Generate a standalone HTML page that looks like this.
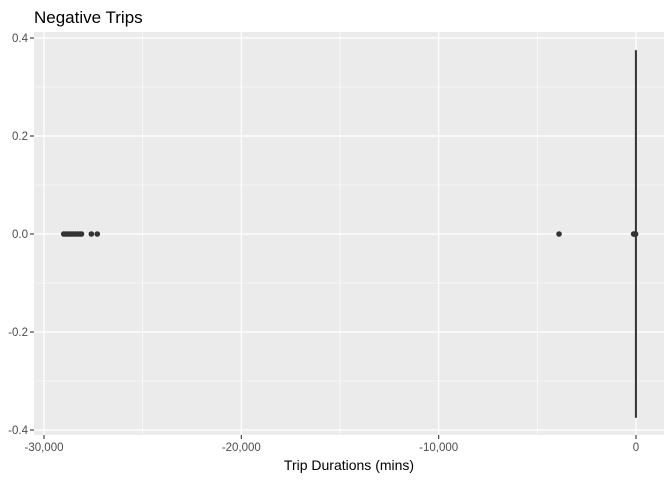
<!DOCTYPE html>
<html><head><meta charset="utf-8"><style>
body{margin:0;background:#fff;font-family:"Liberation Sans",sans-serif}
svg text{font-family:"Liberation Sans",sans-serif}
</style></head><body>
<svg width="672" height="480" xmlns="http://www.w3.org/2000/svg">
<text x="34" y="23" font-size="17" fill="#000">Negative Trips</text>
<rect x="34" y="32" width="630" height="403" fill="#ebebeb"/>
<g id="grid"></g><g id="marks"></g><g id="axes"></g>
<text x="349" y="470" font-size="14" text-anchor="middle" fill="#000">Trip Durations (mins)</text>
</svg>
<script>
const xTicks=[-30000,-20000,-10000,0];
const xTickLabels=["-30,000","-20,000","-10,000","0"];
const yTicks=[-0.4,-0.2,0,0.2,0.4];
const yTickLabels=["-0.4","-0.2","0.0","0.2","0.4"];
const outliers=[-29000,-28900,-28800,-28700,-28600,-28500,-28400,-28300,-28200,-28100,-27600,-27300,-3900,-120,-80,-50,-20];
const boxStats=[-15,-8,-4,-2,-1];
const X=v=>44+(v+30000)*592/30000;
const Y=v=>234-v*490;
const ns="http://www.w3.org/2000/svg";
function mk(t,a,p){const e=document.createElementNS(ns,t);for(const k in a)e.setAttribute(k,a[k]);p.appendChild(e);return e;}
const g=document.getElementById('grid'),m=document.getElementById('marks'),ax=document.getElementById('axes');
for(let i=0;i<xTicks.length-1;i++){const v=(xTicks[i]+xTicks[i+1])/2;
 const l=mk('line',{x1:X(v),x2:X(v),y1:32,y2:435,stroke:'#fff','stroke-width':0.6},g);
 }
for(let i=0;i<yTicks.length-1;i++){const v=(yTicks[i]+yTicks[i+1])/2;
 const l=mk('line',{x1:34,x2:664,y1:Y(v),y2:Y(v),stroke:'#fff','stroke-width':0.6},g);
 }
xTicks.forEach((v,i)=>{const l=mk('line',{x1:X(v),x2:X(v),y1:32,y2:435,stroke:'#fff','stroke-width':1.2},g);
 
 const t=mk('line',{x1:X(v),x2:X(v),y1:435,y2:439,stroke:'#333','stroke-width':1.1},ax);
 
 const tx=mk('text',{x:X(v),y:451,'font-size':11.5,'text-anchor':'middle',fill:'#4d4d4d'},ax);tx.textContent=xTickLabels[i];
 });
yTicks.forEach((v,i)=>{const l=mk('line',{x1:34,x2:664,y1:Y(v),y2:Y(v),stroke:'#fff','stroke-width':1.2},g);
 
 const t=mk('line',{x1:30,x2:34,y1:Y(v),y2:Y(v),stroke:'#333','stroke-width':1.1},ax);
 
 const tx=mk('text',{x:28,y:Y(v)+4,'font-size':11.5,'text-anchor':'end',fill:'#4d4d4d'},ax);tx.textContent=yTickLabels[i];
 });
const bw=0.375;
const wl=mk('line',{x1:X(boxStats[0]),x2:X(boxStats[4]),y1:Y(0),y2:Y(0),stroke:'#333','stroke-width':1},m);

const bx=mk('rect',{x:X(boxStats[2])-1,y:Y(bw),width:2,height:Y(-bw)-Y(bw),fill:'#333'},m);

const md=mk('line',{x1:X(boxStats[2]),x2:X(boxStats[2]),y1:Y(bw),y2:Y(-bw),stroke:'#333','stroke-width':1},m);

outliers.forEach(v=>{const c=mk('circle',{cx:X(v),cy:Y(0),r:2.8,fill:'#333'},m);
 });
</script>
</body></html>
